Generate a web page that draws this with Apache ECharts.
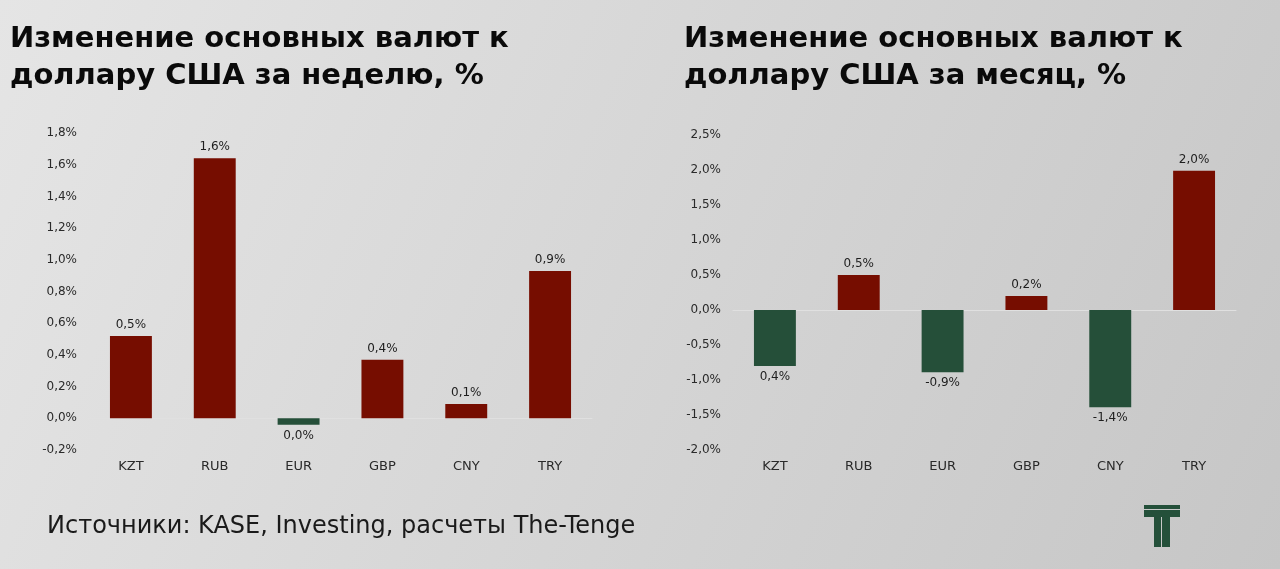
<!DOCTYPE html>
<html>
<head>
<meta charset="utf-8">
<script src="https://cdn.jsdelivr.net/npm/echarts@6/dist/echarts.min.js"></script>
<style>
html,body{margin:0;padding:0;width:1280px;height:569px;overflow:hidden;}
#c{width:1280px;height:569px;}
</style>
</head>
<body>
<div id="c"></div>
<script>
const categories = ['KZT', 'RUB', 'EUR', 'GBP', 'CNY', 'TRY'];
const weekValues = [0.52, 1.64, -0.04, 0.37, 0.09, 0.93];
const weekLabels = ['0,5%', '1,6%', '0,0%', '0,4%', '0,1%', '0,9%'];
const monthValues = [-0.8, 0.5, -0.89, 0.2, -1.39, 1.99];
const monthLabels = ['0,4%', '0,5%', '-0,9%', '0,2%', '-1,4%', '2,0%'];
const weekTitle = 'Изменение основных валют к\nдоллару США за неделю, %';
const monthTitle = 'Изменение основных валют к\nдоллару США за месяц, %';
const sourceText = 'Источники: KASE, Investing, расчеты The-Tenge';

const RED = '#760d00';
const GREEN = '#254f39';
const FONT = '"DejaVu Sans", sans-serif';

function pctFmt(v) {
  return v.toFixed(1).replace('.', ',') + '%';
}

function barData(values, labels) {
  return values.map((v, i) => ({
    value: v,
    itemStyle: { color: v >= 0 ? RED : GREEN },
    label: { show: true, position: v >= 0 ? 'top' : 'bottom', formatter: labels[i] }
  }));
}

const chart = echarts.init(document.getElementById('c'), null, { renderer: 'canvas' });

const xAxisCommon = {
  type: 'category',
  data: categories,
  axisTick: { show: false },
  axisLine: { show: true, onZero: true, lineStyle: { color: '#e0e0e0', width: 1 } },
  axisLabel: { color: '#2a2a2a', fontSize: 13, fontFamily: FONT, margin: 10, interval: 0 },
  splitLine: { show: false }
};

const yAxisCommon = {
  type: 'value',
  axisLine: { show: false },
  axisTick: { show: false },
  splitLine: { show: false },
  axisLabel: { color: '#2a2a2a', fontSize: 12, fontFamily: FONT, margin: 12, formatter: pctFmt }
};

const labelCommon = { color: '#1e1e1e', fontSize: 12, fontFamily: FONT, distance: 5 };

const titleStyle = { fontFamily: '"DejaVu Sans", sans-serif', fontWeight: 'bold', fontSize: 29, color: '#0a0a0a', lineHeight: 37 };

chart.setOption({
  backgroundColor: new echarts.graphic.LinearGradient(0, 0, 1, 1, [
    { offset: 0, color: '#e5e5e5' },
    { offset: 1, color: '#c6c6c6' }
  ]),
  animation: false,
  title: [
    { text: weekTitle, left: 10, top: 21, padding: 0, textStyle: titleStyle },
    { text: monthTitle, left: 684, top: 21, padding: 0, textStyle: titleStyle }
  ],
  grid: [
    { left: 89, right: 688, top: 133, bottom: 119 },
    { left: 733, right: 44, top: 135, bottom: 119 }
  ],
  xAxis: [
    Object.assign({}, xAxisCommon, { gridIndex: 0 }),
    Object.assign({}, xAxisCommon, { gridIndex: 1 })
  ],
  yAxis: [
    Object.assign({}, yAxisCommon, { gridIndex: 0, min: -0.2, max: 1.8, interval: 0.2 }),
    Object.assign({}, yAxisCommon, { gridIndex: 1, min: -2, max: 2.5, interval: 0.5 })
  ],
  series: [
    { type: 'bar', xAxisIndex: 0, yAxisIndex: 0, barWidth: '50%', label: labelCommon,
      data: barData(weekValues, weekLabels) },
    { type: 'bar', xAxisIndex: 1, yAxisIndex: 1, barWidth: '50%', label: labelCommon,
      data: barData(monthValues, monthLabels) }
  ],
  graphic: [
    { type: 'text', left: 47, top: 515,
      style: { text: sourceText, fill: '#1a1a1a', fontSize: 24, fontFamily: FONT } },
    { type: 'group', left: 1144, top: 505, children: [
      { type: 'rect', shape: { x: 0, y: 0, width: 36, height: 4 }, style: { fill: '#24503a' } },
      { type: 'rect', shape: { x: 0, y: 5, width: 36, height: 7 }, style: { fill: '#24503a' } },
      { type: 'rect', shape: { x: 10, y: 12, width: 7, height: 30 }, style: { fill: '#24503a' } },
      { type: 'rect', shape: { x: 18, y: 12, width: 8, height: 30 }, style: { fill: '#24503a' } }
    ]}
  ]
});
</script>
</body>
</html>
